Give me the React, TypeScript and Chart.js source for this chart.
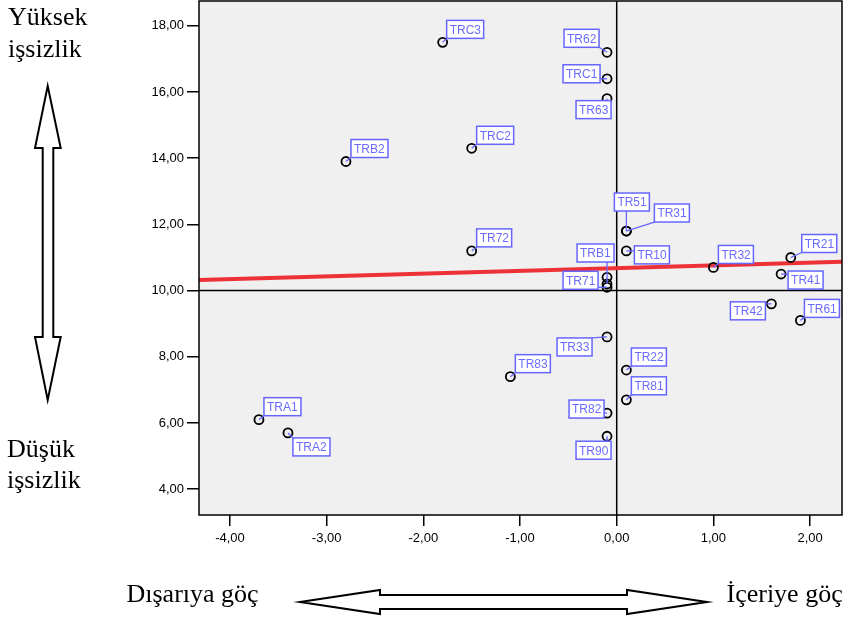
import React, { useEffect, useRef } from "react";
import { Chart, registerables } from "chart.js";

Chart.register(...registerables);

// ---- data ----
const regions = [
  "TRC3", "TRB2", "TR62", "TRC1", "TR63", "TRC2", "TR72", "TR51", "TR31", "TR10",
  "TR32", "TR21", "TR41", "TR52", "TRB1", "TR71", "TR42", "TR61", "TR33", "TR83",
  "TR22", "TR81", "TR82", "TR90", "TRA1", "TRA2",
];
const netMigration = [
  -1.8, -2.8, -0.1, -0.1, -0.1, -1.5, -1.5, 0.1, 0.1, 0.1,
  1.0, 1.8, 1.7, -0.1, -0.1, -0.1, 1.6, 1.9, -0.1, -1.1,
  0.1, 0.1, -0.1, -0.1, -3.7, -3.4,
];
const unemployment = [
  17.5, 13.9, 17.2, 16.4, 15.8, 14.3, 11.2, 11.8, 11.8, 11.2,
  10.7, 11.0, 10.5, 10.4, 10.2, 10.1, 9.6, 9.1, 8.6, 7.4,
  7.6, 6.7, 6.3, 5.6, 6.1, 5.7,
];
const fitLineX = [-4.32, 2.33];
const fitLineY = [10.32, 10.87];
const xTicks = [-4, -3, -2, -1, 0, 1, 2];
const yTicks = [4, 6, 8, 10, 12, 14, 16, 18];
const refX = 0;
const refY = 10;
const xRange = [-4.32, 2.33];
const yRange = [3.22, 18.75];

// ---- label layout (box top-left offset from point, px) ----
const labelOffsets: Record<string, [number, number]> = {
  TRC3: [4, -22], TRB2: [5, -22], TR62: [-43, -23], TRC1: [-44, -14], TR63: [-31, 2],
  TRC2: [5, -22], TR72: [5, -22], TR51: [-12, -38], TR31: [28, -27], TR10: [8, -5],
  TR32: [5, -22], TR21: [11, -23], TR41: [7, -3], TRB1: [-30, -40], TR71: [-44, -16],
  TR42: [-41, -2], TR61: [4, -21], TR33: [-50, 1], TR83: [5, -22], TR22: [5, -22],
  TR81: [5, -23], TR82: [-38, -13], TR90: [-31, 5], TRA1: [5, -22], TRA2: [5, 5],
};

const fmt = (v: number) => v.toFixed(2).replace(".", ",");
const LABEL_BLUE = "#6666ff";
const LABEL_TEXT = "#6b6bff";

const decorPlugin = {
  id: "decor",
  beforeDraw(chart: any) {
    const { ctx, chartArea: a } = chart;
    ctx.save();
    ctx.fillStyle = "#ffffff";
    ctx.fillRect(0, 0, chart.width, chart.height);
    ctx.fillStyle = "#f0f0f0";
    ctx.fillRect(a.left, a.top, a.right - a.left, a.bottom - a.top);
    ctx.restore();
  },
  beforeDatasetsDraw(chart: any) {
    const { ctx, chartArea: a, scales } = chart;
    const x0 = scales.x.getPixelForValue(refX);
    const y0 = scales.y.getPixelForValue(refY);
    ctx.save();
    ctx.strokeStyle = "#000";
    ctx.lineWidth = 1.5;
    ctx.beginPath();
    ctx.moveTo(x0, a.top);
    ctx.lineTo(x0, a.bottom);
    ctx.moveTo(a.left, y0);
    ctx.lineTo(a.right, y0);
    ctx.stroke();
    ctx.restore();
  },
  afterDatasetsDraw(chart: any) {
    const { ctx, chartArea: a } = chart;
    // frame
    ctx.save();
    ctx.strokeStyle = "#000";
    ctx.lineWidth = 1.5;
    ctx.strokeRect(a.left, a.top, a.right - a.left, a.bottom - a.top);
    // labels
    const meta = chart.getDatasetMeta(0);
    ctx.font = "12px 'Liberation Sans', Arial, sans-serif";
    ctx.textBaseline = "middle";
    ctx.textAlign = "left";
    regions.forEach((name, i) => {
      const off = labelOffsets[name];
      if (!off) return;
      const el = meta.data[i];
      const px = el.x;
      const py = el.y;
      const tw = ctx.measureText(name).width;
      const w = Math.round(tw + 6);
      const h = 18;
      const left = px + off[0];
      const top = py + off[1];
      const cx = Math.min(Math.max(px, left), left + w);
      const cy = Math.min(Math.max(py, top), top + h);
      ctx.strokeStyle = LABEL_BLUE;
      ctx.lineWidth = 1.3;
      ctx.beginPath();
      ctx.moveTo(px, py);
      ctx.lineTo(cx, cy);
      ctx.stroke();
      ctx.fillStyle = "#ffffff";
      ctx.fillRect(left, top, w, h);
      ctx.lineWidth = 1.5;
      ctx.strokeRect(left, top, w, h);
      ctx.fillStyle = LABEL_TEXT;
      ctx.fillText(name, left + 3, top + h / 2 + 1);
    });
    ctx.restore();
  },
  afterDraw(chart: any) {
    const { ctx } = chart;
    ctx.save();
    ctx.fillStyle = "#000";
    ctx.font = "26px 'Liberation Serif', 'Times New Roman', serif";
    ctx.textBaseline = "alphabetic";
    ctx.textAlign = "left";
    ctx.fillText("Yüksek", 8, 25);
    ctx.fillText("işsizlik", 8, 56.5);
    ctx.fillText("Düşük", 7, 456.5);
    ctx.fillText("işsizlik", 7, 488);
    ctx.fillText("Dışarıya göç", 126.5, 601.5);
    ctx.fillText("İçeriye göç", 726.5, 601.5);

    const poly = (pts: number[][]) => {
      ctx.beginPath();
      pts.forEach((p, k) => (k === 0 ? ctx.moveTo(p[0], p[1]) : ctx.lineTo(p[0], p[1])));
      ctx.closePath();
      ctx.fillStyle = "#fff";
      ctx.fill();
      ctx.strokeStyle = "#000";
      ctx.lineWidth = 2;
      ctx.lineJoin = "miter";
      ctx.stroke();
    };
    // vertical double arrow
    poly([
      [47.7, 86], [60.7, 148], [53.3, 148], [53.3, 337], [60.7, 337],
      [47.7, 400], [35, 337], [42.7, 337], [42.7, 148], [35, 148],
    ]);
    // horizontal double arrow
    poly([
      [300, 602], [380, 590], [380, 595], [627, 595], [627, 590],
      [707, 602], [627, 614], [627, 609], [380, 609], [380, 614],
    ]);
    ctx.restore();
  },
};

export default function App() {
  const ref = useRef<HTMLCanvasElement | null>(null);
  useEffect(() => {
    if (!ref.current) return;
    const points = netMigration.map((x, i) => ({ x, y: unemployment[i] }));
    const fit = fitLineX.map((x, i) => ({ x, y: fitLineY[i] }));
    const tickFont = { family: "'Liberation Sans', Arial, sans-serif", size: 13 };
    const chart = new Chart(ref.current, {
      type: "scatter",
      data: {
        datasets: [
          {
            data: points,
            pointRadius: 4.5,
            pointHoverRadius: 4.5,
            borderColor: "#000",
            backgroundColor: "rgba(0,0,0,0)",
            borderWidth: 1.8,
            order: 1,
          },
          {
            type: "line",
            data: fit,
            borderColor: "rgb(237,50,55)",
            borderWidth: 4,
            pointRadius: 0,
            fill: false,
            order: 2,
          } as any,
        ],
      },
      options: {
        animation: false,
        responsive: false,
        devicePixelRatio: 1,
        layout: { autoPadding: false, padding: { left: 0, right: 8, top: 1, bottom: 64 } },
        plugins: { legend: { display: false }, tooltip: { enabled: false }, title: { display: false } },
        scales: {
          x: {
            type: "linear",
            min: xRange[0],
            max: xRange[1],
            afterBuildTicks: (s: any) => {
              s.ticks = xTicks.map((v) => ({ value: v }));
            },
            afterFit: (s: any) => {
              s.height = 40;
              s.paddingLeft = 0;
              s.paddingRight = 0;
            },
            ticks: {
              color: "#000",
              font: tickFont,
              padding: 5,
              maxRotation: 0,
              autoSkip: false,
              callback: (v: any) => fmt(Number(v)),
            },
            grid: { display: true, drawOnChartArea: false, drawTicks: true, tickLength: 11, color: "#000", lineWidth: 1.5 },
            border: { display: false },
          },
          y: {
            type: "linear",
            min: yRange[0],
            max: yRange[1],
            afterBuildTicks: (s: any) => {
              s.ticks = yTicks.map((v) => ({ value: v }));
            },
            afterFit: (s: any) => {
              s.width = 199;
              s.paddingTop = 0;
              s.paddingBottom = 0;
            },
            ticks: {
              color: "#000",
              font: tickFont,
              padding: 3,
              autoSkip: false,
              callback: (v: any) => fmt(Number(v)),
            },
            grid: { display: true, drawOnChartArea: false, drawTicks: true, tickLength: 12, color: "#000", lineWidth: 1.5 },
            border: { display: false },
          },
        },
      },
      plugins: [decorPlugin],
    } as any);
    return () => chart.destroy();
  }, []);
  return (
    <div style={{ position: "absolute", left: 0, top: 0, width: 850, height: 619 }}>
      <canvas ref={ref} width={850} height={619} style={{ width: 850, height: 619, display: "block" }} />
    </div>
  );
}
